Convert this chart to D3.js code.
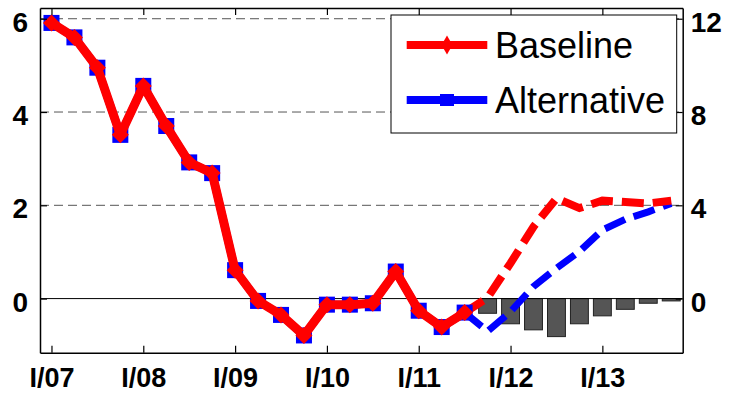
<!DOCTYPE html>
<html>
<head>
<meta charset="utf-8">
<script src="https://cdn.jsdelivr.net/npm/d3@7"></script>
<style>
  body { margin: 0; background: #fff; }
  svg { display: block; font-family: "Liberation Sans", Arial, sans-serif; }
</style>
</head>
<body>
<svg id="chart" width="738" height="395"></svg>
<script>
// quarterly index 0 = I/07 ... 27 = IV/13
const yearTicks = [0, 4, 8, 12, 16, 20, 24];
const yearLabels = ["I/07", "I/08", "I/09", "I/10", "I/11", "I/12", "I/13"];
const lastActual = 18;

const baseline = [5.91, 5.60, 4.95, 3.51, 4.56, 3.70, 2.92, 2.69, 0.61, -0.05,
  -0.35, -0.79, -0.13, -0.13, -0.10, 0.58, -0.26, -0.61, -0.30,
  0.02, 0.76, 1.54, 2.15, 1.94, 2.10, 2.07, 2.04, 2.10];
const alternative = [5.91, 5.60, 4.95, 3.51, 4.56, 3.70, 2.92, 2.69, 0.61, -0.05,
  -0.35, -0.79, -0.13, -0.13, -0.10, 0.58, -0.26, -0.61, -0.30,
  -0.70, -0.28, 0.26, 0.65, 1.01, 1.47, 1.70, 1.86, 2.04];
// difference bars, right axis
const barQuarters = [19, 20, 21, 22, 23, 24, 25, 26, 27];
const barValues = [-0.63, -1.08, -1.34, -1.63, -1.08, -0.74, -0.46, -0.20, -0.10];

const leftTicks = [0, 2, 4, 6];
const rightTicks = [0, 4, 8, 12];

const svg = d3.select("#chart");
const margin = {left: 40, top: 8, right: 55.3, bottom: 42.3};
const W = 738, H = 395;
const x = d3.scaleLinear().domain([-0.5, 27.5]).range([margin.left, W - margin.right]);
const y = d3.scaleLinear().domain([-1.16, 6.23]).range([H - margin.bottom, margin.top]);
const y2 = d3.scaleLinear().domain([-2.32, 12.46]).range([H - margin.bottom, margin.top]);

// grid
svg.append("g").selectAll("line")
  .data([2, 4, 6]).enter().append("line")
  .attr("x1", x.range()[0]).attr("x2", x.range()[1])
  .attr("y1", d => y(d)).attr("y2", d => y(d))
  .attr("stroke", "#555").attr("stroke-width", 1)
  .attr("stroke-dasharray", "9,5");

// bars
const step = x(1) - x(0);
const bw = step * 0.78;
svg.append("g").selectAll("rect")
  .data(barValues).enter().append("rect")
  .attr("x", (d, i) => x(barQuarters[i]) - bw / 2)
  .attr("width", bw)
  .attr("y", d => y2(Math.max(0, d)))
  .attr("height", d => Math.abs(y2(d) - y2(0)))
  .attr("fill", "#555").attr("stroke", "#222").attr("stroke-width", 1);

// zero line
svg.append("line")
  .attr("x1", x.range()[0]).attr("x2", x.range()[1])
  .attr("y1", y(0)).attr("y2", y(0))
  .attr("stroke", "#000").attr("stroke-width", 1);

const line = d3.line().x(d => x(d[0])).y(d => y(d[1]));
const pts = arr => arr.map((v, i) => [i, v]);

const basePts = pts(baseline), altPts = pts(alternative);

// forecast dashed lines
svg.append("path").datum(altPts.slice(lastActual))
  .attr("d", line).attr("fill", "none")
  .attr("stroke", "#0000ff").attr("stroke-width", 7)
  .attr("stroke-dasharray", "22,9");
svg.append("path").datum(basePts.slice(lastActual))
  .attr("d", line).attr("fill", "none")
  .attr("stroke", "#ff0000").attr("stroke-width", 8)
  .attr("stroke-dasharray", "22,9");

// actual: alternative with squares, baseline with diamonds on top
svg.append("path").datum(altPts.slice(0, lastActual + 1))
  .attr("d", line).attr("fill", "none")
  .attr("stroke", "#0000ff").attr("stroke-width", 8)
  .attr("stroke-linejoin", "round");
svg.append("g").selectAll("rect")
  .data(altPts.slice(0, lastActual + 1)).enter().append("rect")
  .attr("x", d => x(d[0]) - 8).attr("y", d => y(d[1]) - 8)
  .attr("width", 16).attr("height", 16)
  .attr("fill", "#0000ff");
svg.append("path").datum(basePts.slice(0, lastActual + 1))
  .attr("d", line).attr("fill", "none")
  .attr("stroke", "#ff0000").attr("stroke-width", 9)
  .attr("stroke-linejoin", "round");
const diamond = (cx, cy, rx, ry) => `M${cx},${cy - ry}L${cx + rx},${cy}L${cx},${cy + ry}L${cx - rx},${cy}Z`;
svg.append("g").selectAll("path")
  .data(basePts.slice(0, lastActual + 1)).enter().append("path")
  .attr("d", d => diamond(x(d[0]), y(d[1]), 8.5, 8.5))
  .attr("fill", "#ff0000");

// axes
const styleAxis = size => g => {
  g.select(".domain").attr("stroke", "#000").attr("stroke-width", 1.5);
  g.selectAll(".tick line").attr("stroke", "#000").attr("stroke-width", 1.2);
  g.selectAll("text").attr("fill", "#000").style("font-size", size)
    .style("font-weight", "bold").style("font-family", "'Liberation Sans', Arial, sans-serif");
};
svg.append("g").attr("transform", `translate(${x.range()[0]},0)`)
  .call(d3.axisLeft(y).tickValues(leftTicks).tickFormat(d3.format("d"))
    .tickSizeInner(-7).tickSizeOuter(0).tickPadding(12))
  .call(styleAxis("28px"))
  .call(g => g.selectAll("text").attr("dy", "0.45em"));
svg.append("g").attr("transform", `translate(${x.range()[1]},0)`)
  .call(d3.axisRight(y2).tickValues(rightTicks).tickFormat(d3.format("d"))
    .tickSizeInner(-7).tickSizeOuter(0).tickPadding(8))
  .call(styleAxis("28px"))
  .call(g => g.selectAll("text").attr("dy", "0.45em"));
svg.append("g").attr("transform", `translate(0,${y.range()[0]})`)
  .call(d3.axisBottom(x).tickValues(yearTicks).tickFormat((d, i) => yearLabels[i])
    .tickSizeInner(-7).tickSizeOuter(0).tickPadding(15))
  .call(styleAxis("27px"));
svg.append("g").attr("transform", `translate(0,${y.range()[1]})`)
  .call(d3.axisTop(x).tickValues(yearTicks).tickFormat("")
    .tickSizeInner(-7).tickSizeOuter(0))
  .call(styleAxis("27px"));

// legend
const lg = svg.append("g").attr("transform", "translate(391,15)");
lg.append("rect").attr("width", 285.7).attr("height", 118)
  .attr("fill", "#fff").attr("stroke", "#000").attr("stroke-width", 1);
const legendItems = [
  {name: "Baseline", color: "#ff0000", y: 30},
  {name: "Alternative", color: "#0000ff", y: 85}
];
legendItems.forEach((it, i) => {
  lg.append("line").attr("x1", 15.7).attr("x2", 96.3)
    .attr("y1", it.y).attr("y2", it.y)
    .attr("stroke", it.color).attr("stroke-width", 8);
  if (i === 0) {
    lg.append("path").attr("d", diamond(56, it.y, 5.5, 9.5)).attr("fill", it.color);
  } else {
    lg.append("rect").attr("x", 49).attr("y", it.y - 6).attr("width", 14).attr("height", 12)
      .attr("fill", it.color);
  }
  lg.append("text").attr("x", 104).attr("y", it.y).attr("dy", "0.36em")
    .style("font-size", "36px").attr("fill", "#000").text(it.name);
});
</script>
</body>
</html>
